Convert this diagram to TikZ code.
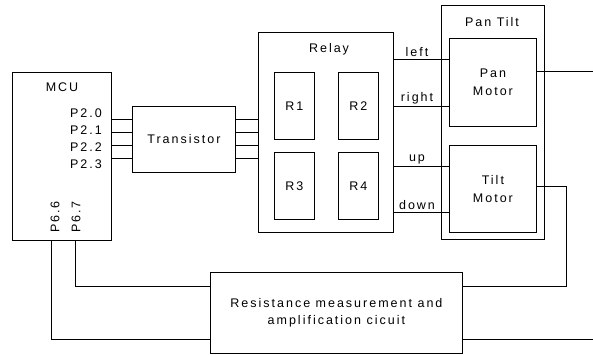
\documentclass[tikz,border=0pt]{standalone}
\usepackage{fontspec}
\setmainfont{Liberation Sans}[LetterSpace=16]
\begin{document}
\begin{tikzpicture}[x=1pt,y=-1pt,
  every node/.style={font=\fontsize{12.5}{17.5}\selectfont, inner sep=0pt},
  box/.style={draw, line width=0.8pt, anchor=north west},
  wire/.style={line width=0.8pt},
  lbl/.style={above=1.5pt}]
\useasboundingbox (0,0) rectangle (593,354);
% boxes
\node[box, minimum width=99pt, minimum height=168pt] (mcu) at (12,72) {};
\node[box, minimum width=103pt, minimum height=66pt] (tr) at (132,106) {};
\node[box, minimum width=135pt, minimum height=200pt] (relay) at (258,32) {};
\node[box, minimum width=40pt, minimum height=67pt] (r1) at (274,72) {};
\node[box, minimum width=40pt, minimum height=67pt] (r2) at (338,72) {};
\node[box, minimum width=40pt, minimum height=67pt] (r3) at (274,152) {};
\node[box, minimum width=40pt, minimum height=67pt] (r4) at (338,152) {};
\node[box, minimum width=103pt, minimum height=234pt] (pt) at (441,5) {};
\node[box, minimum width=87pt, minimum height=88pt] (pan) at (449,38) {};
\node[box, minimum width=87pt, minimum height=87pt] (tilt) at (449,145) {};
\node[box, minimum width=252pt, minimum height=81pt] (res) at (210,272) {};
% texts
\node (tmcu) at (62,87) {MCU};
\node[anchor=east] (p20) at (102,113) {P2.0};
\node[anchor=east] (p21) at (102,130) {P2.1};
\node[anchor=east] (p22) at (102,147) {P2.2};
\node[anchor=east] (p23) at (102,164) {P2.3};
\node[rotate=90, anchor=west] (p66) at (55,233) {P6.6};
\node[rotate=90, anchor=west] (p67) at (76,233) {P6.7};
\node (ttr) at (tr.center) {Transistor};
\node (trel) at (329,49) {Relay};
\node at (r1.center) {R1};
\node at (r2.center) {R2};
\node at (r3.center) {R3};
\node at (r4.center) {R4};
\node (tpt) at (492,22) {Pan Tilt};
\node[align=center] at (pan.center) {Pan\\Motor};
\node[align=center] at (tilt.center) {Tilt\\Motor};
\node[align=center] at (res.center) {Resistance measurement and\\amplification cicuit};
% wires MCU - transistor - relay
\foreach \y in {119,132,145.5,158.5}{
  \draw[wire] (mcu.east |- 0,\y) -- (tr.west |- 0,\y);
  \draw[wire] (tr.east |- 0,\y) -- (relay.west |- 0,\y);
}
% relay - motors
\draw[wire] (relay.east |- 0,59) -- node[lbl, pos=0.42] {left} (pan.west |- 0,59);
\draw[wire] (relay.east |- 0,106) -- node[lbl, pos=0.42] {right} (pan.west |- 0,106);
\draw[wire] (relay.east |- 0,166) -- node[lbl, pos=0.42] {up} (tilt.west |- 0,166);
\draw[wire] (relay.east |- 0,212) -- node[lbl, pos=0.42] {down} (tilt.west |- 0,212);
% outputs
\coordinate (panout) at (593,71);
\draw[wire] (pan.east |- panout) -- (panout);
\coordinate (tcorner) at (566,186);
\draw[wire] (tilt.east |- tcorner) -- (tcorner) -- (tcorner |- 0,286) -- (res.east |- 0,286);
\coordinate (resout) at (593,339);
\draw[wire] (res.east |- resout) -- (resout);
% MCU bottom
\draw[wire] (mcu.south -| 51,0) -- (51,339) -- (res.west |- 0,339);
\draw[wire] (mcu.south -| 75,0) -- (75,286) -- (res.west |- 0,286);
\end{tikzpicture}
\end{document}
